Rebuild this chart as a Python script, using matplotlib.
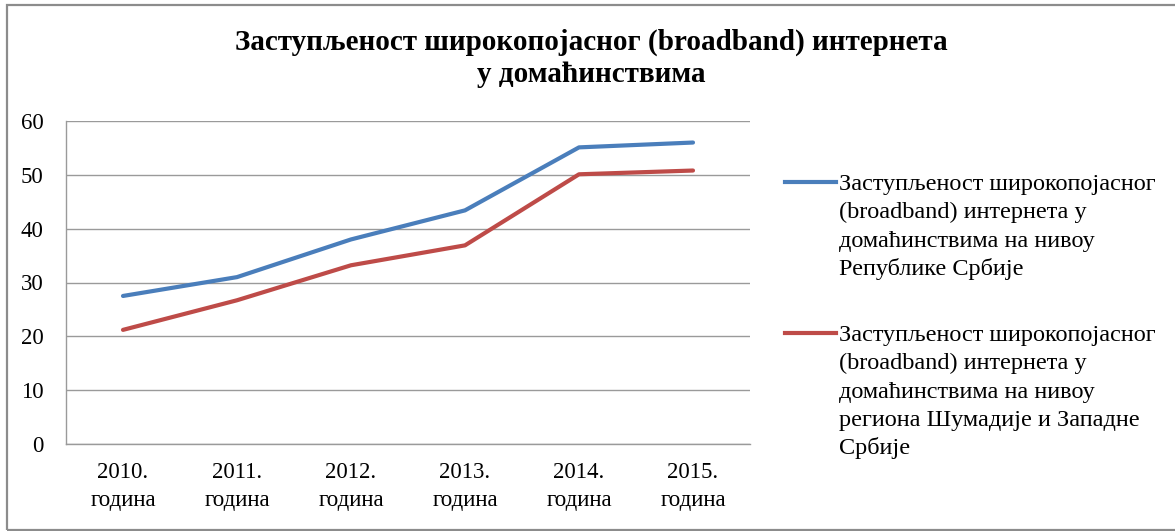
import matplotlib
matplotlib.use('Agg')
import matplotlib.pyplot as plt
from matplotlib.lines import Line2D
from matplotlib.patches import Rectangle

years = ['2010.\nгодина', '2011.\nгодина', '2012.\nгодина',
         '2013.\nгодина', '2014.\nгодина', '2015.\nгодина']
srbija = [27.5, 31.0, 38.0, 43.4, 55.1, 56.0]
sumadija = [21.2, 26.7, 33.2, 36.9, 50.1, 50.8]

label_srbija = ['Заступљеност широкопојасног', '(broadband) интернета у',
                'домаћинствима на нивоу', 'Републике Србије']
label_sumadija = ['Заступљеност широкопојасног', '(broadband) интернета у',
                  'домаћинствима на нивоу', 'региона Шумадије и Западне',
                  'Србије']

blue = '#4a7ebb'
red = '#be4b48'
grid_col = '#9a9a9a'

plt.rcParams['font.family'] = ['Liberation Serif', 'DejaVu Serif']

fig = plt.figure(figsize=(11.75, 5.31), dpi=100)
ax = fig.add_axes([66 / 1175, 87 / 531, 684 / 1175, 323 / 531])

x = range(len(years))
ax.plot(x, srbija, color=blue, lw=3, solid_capstyle='round')
ax.plot(x, sumadija, color=red, lw=3, solid_capstyle='round')

ax.set_xlim(-0.5, len(years) - 0.5)
ax.set_ylim(0, 60)
ax.set_yticks(range(0, 61, 10))
ax.set_xticks(list(x))
ax.set_xticklabels(years, fontsize=16.5, linespacing=1.45)
ax.tick_params(axis='y', labelsize=16.5, length=0, pad=16)
ax.tick_params(axis='x', length=0, pad=13)
ax.grid(axis='y', color=grid_col, lw=1)
ax.set_axisbelow(True)
for side in ['top', 'right']:
    ax.spines[side].set_visible(False)
for side in ['left', 'bottom']:
    ax.spines[side].set_color(grid_col)
    ax.spines[side].set_linewidth(1)

fig.text(0.503, 1 - 29 / 531, 'Заступљеност широкопојасног (broadband) интернета\nу домаћинствима',
         ha='center', va='top', fontsize=21, fontweight='bold', linespacing=1.2)


def legend_block(color, lines, top):
    handles = [Line2D([], [], color=color, lw=3)]
    handles += [Line2D([], [], color='none')] * (len(lines) - 1)
    leg = fig.legend(handles, lines, loc='upper left', bbox_to_anchor=(785 / 1175, top),
                     frameon=False, fontsize=17.5, handlelength=2.1, handletextpad=0.12,
                     labelspacing=0.26, borderpad=0, borderaxespad=0)
    return leg


legend_block(blue, label_srbija, 1 - 173 / 531)
legend_block(red, label_sumadija, 1 - 324 / 531)

fig.add_artist(Rectangle((7 / 1175, 1 - 530 / 531), 1.2, (530 - 5) / 531,
                         transform=fig.transFigure, fill=False,
                         edgecolor='#8c8c8c', lw=1.6))

fig.savefig('out.png', dpi=100)
